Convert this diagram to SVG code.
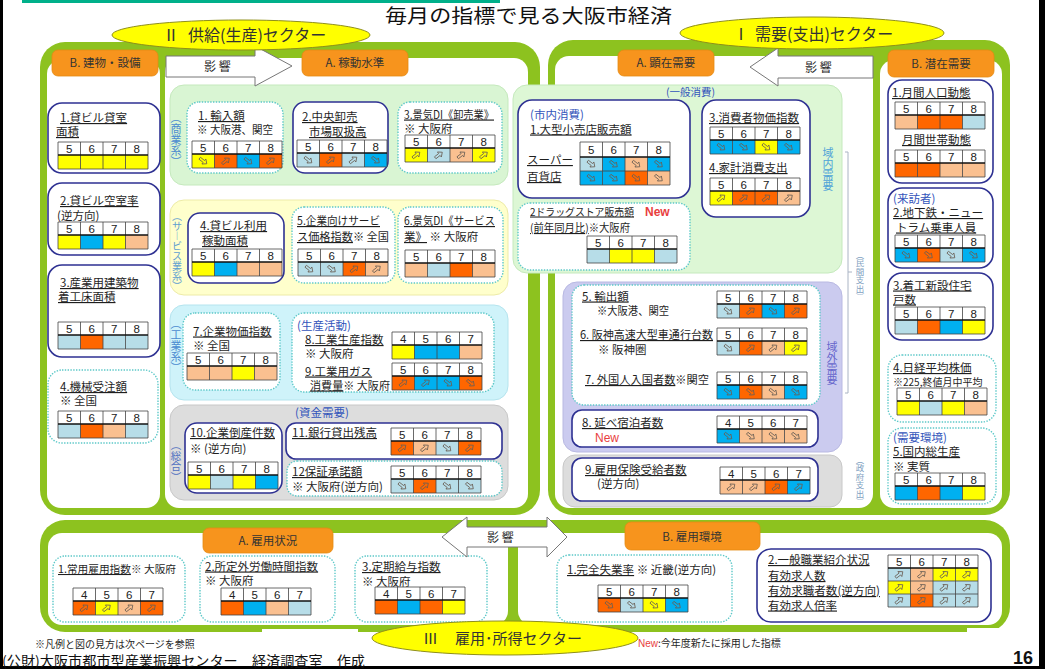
<svg xmlns="http://www.w3.org/2000/svg" width="1045" height="669" viewBox="0 0 1045 669">
<style>
text{font-family:"Noto Sans CJK JP","Liberation Sans",sans-serif;fill:#1f1f1f;font-size:11.5px}
.u{text-decoration:underline}
.bl{fill:#3355BB}
.n{font-family:"Liberation Sans",Arial,sans-serif;font-size:11.5px;text-anchor:middle;fill:#222}
.nv{fill:#fff;stroke:#2E3192;stroke-width:1.6}
.dt{fill:#fff;stroke:#5CC8C8;stroke-width:1.4;stroke-dasharray:1.4 1.4}
.g{fill:none;stroke:#444;stroke-width:0.8}
.gh{fill:none;stroke:#111;stroke-width:1.4}
.Y{fill:#FFFF00}.O{fill:#FF6600}.B{fill:#00B0F0}.L{fill:#B7DDE8}.P{fill:#FAC090}
.ar{fill:none;stroke:#6A5F55;stroke-width:0.8}
.fr{fill:#8DC21F}
.wp{fill:#fff}
.tab{fill:#F7941D;stroke:#E58A12;stroke-width:0.8}
.tt{font-size:11.5px;text-anchor:middle;fill:#333}
.el{fill:#FFFF00;stroke:#8F8F1A;stroke-width:1}
.et{font-size:16px;fill:#333}
.ya{fill:#fff;stroke:#777;stroke-width:1}
.red{fill:#E83E3E}
.sm{font-size:10px}
</style>
<defs>
<g id="ad"><path class="ar" d="M-4.5,-1.2H0.8V-3.2L4.5,0L0.8,3.2V1.2H-4.5Z" transform="rotate(38)"/></g>
<g id="au"><path class="ar" d="M-4.5,-1.2H0.8V-3.2L4.5,0L0.8,3.2V1.2H-4.5Z" transform="rotate(-38)"/></g>
<g id="t1"><rect width="90" height="13" fill="#fff"/><path class="g" d="M0,0H90V27H0ZM22.5,0V27M45,0V27M67.5,0V27"/><path class="gh" d="M0,13H90"/></g>
<g id="t2"><rect width="90" height="15" fill="#fff"/><path class="g" d="M0,0H90V43H0ZM22.5,0V43M45,0V43M67.5,0V43M0,29H90"/><path class="gh" d="M0,15H90"/></g>
<g id="t3"><rect width="90" height="13" fill="#fff"/><path class="g" d="M0,0H90V52H0ZM22.5,0V52M45,0V52M67.5,0V52M0,26H90M0,39H90"/><path class="gh" d="M0,13H90"/></g>
</defs>

<rect width="1045" height="669" fill="#fff"/>
<rect x="22" y="0" width="478" height="3" fill="#00B08A"/>
<rect x="0" y="0" width="3" height="669" fill="#000"/>
<rect x="1039" y="0" width="6" height="669" fill="#000"/>
<rect x="0" y="666" width="1045" height="3" fill="#000"/>

<!-- frames -->
<g id="frames">
<rect class="fr" x="40" y="42" width="500" height="473" rx="25"/>
<rect class="wp" x="47" y="60" width="113" height="448" rx="14"/>
<rect class="wp" x="165" y="58" width="363" height="450" rx="14"/>
<rect class="fr" x="548" y="40" width="462" height="475" rx="25"/>
<rect class="wp" x="555" y="56" width="318" height="452" rx="14"/>
<rect class="wp" x="880" y="60" width="122" height="448" rx="14"/>
<rect class="fr" x="40" y="520" width="970" height="112" rx="25"/>
<rect class="wp" x="48" y="533" width="460" height="92" rx="14"/>
<rect class="wp" x="518" y="533" width="484" height="92" rx="14"/>
<rect class="wp" x="967" y="628" width="72" height="30"/>
<rect class="wp" x="262" y="629" width="96" height="12"/>
</g>

<!-- regions -->
<g id="regions">
<rect x="170" y="85" width="338" height="100" rx="14" fill="#D9F5D3" stroke="#C5E9BD"/>
<rect x="170" y="200" width="338" height="95" rx="14" fill="#FFFFCC" stroke="#EDEBA8"/>
<rect x="170" y="305" width="338" height="95" rx="14" fill="#CFF3FA" stroke="#B5E4EE"/>
<rect x="170" y="405" width="338" height="95" rx="14" fill="#DDDDDD" stroke="#C8C8C8"/>
<rect x="513" y="85" width="329" height="188" rx="14" fill="#DDF7D5" stroke="#C5E9BD"/>
<rect x="563" y="282" width="279" height="170" rx="14" fill="#CBCBEF" stroke="#B9B9E2"/>
<rect x="563" y="455" width="279" height="52" rx="12" fill="#DDDDDD" stroke="#C8C8C8"/>
<text x="170.5" y="121.7" transform="rotate(90 170.5 121.7)" rotate="-90" style="fill:#4B8BD0;font-size:11px">︵商業系︶</text>
<text x="172" y="219.8" transform="rotate(90 172 219.8)" rotate="-90" style="fill:#5FA0D0;font-size:10px">︵サ︱ビス業系︶</text>
<text x="170.5" y="327.7" transform="rotate(90 170.5 327.7)" rotate="-90" style="fill:#4B8BD0;font-size:11px">︵工業系︶</text>
<text x="170.75" y="449.2" transform="rotate(90 170.75 449.2)" rotate="-90" style="fill:#5070C0;font-size:10.5px">︵総合︶</text>
<text class="bl" x="295" y="417">(資金需要)</text>
<text class="bl" x="666" y="96" style="font-size:10.5px">(一般消費)</text>
<text x="822.5" y="156.7" transform="rotate(90 822.5 156.7)" rotate="-90" style="fill:#4FA3D8;font-size:11px">域内需要</text>
<text x="826.5" y="350.7" transform="rotate(90 826.5 350.7)" rotate="-90" style="fill:#6666CC;font-size:11px">域外需要</text>
<text x="855.75" y="257.5" transform="rotate(90 855.75 257.5)" rotate="-90" style="fill:#7F9FBF;font-size:8.5px">︵民間支出︶</text>
<text x="855.75" y="462.5" transform="rotate(90 855.75 462.5)" rotate="-90" style="fill:#7F9FBF;font-size:8.5px">︵政府支出︶</text>
<path d="M845,152H848V393H845M848,272H852" fill="none" stroke="#AAB4C4" stroke-width="1"/>
</g>

<!-- left B -->
<g id="lb1"><rect class="nv" x="48" y="103" width="112" height="70" rx="14"/>
<text x="60" y="122" class="u">1.貸ビル貸室</text><text x="56" y="136" class="u">面積</text>
<g transform="translate(58,142)"><rect class="Y" y="13" width="22.5" height="14"/><rect class="Y" x="22.5" y="13" width="22.5" height="14"/><rect class="Y" x="45" y="13" width="22.5" height="14"/><rect class="Y" x="67.5" y="13" width="22.5" height="14"/><use href="#t1"/><text class="n" x="11.25 33.75 56.25 78.75" y="10.5">5678</text></g></g>

<g id="lb2"><rect class="nv" x="48" y="183" width="112" height="72" rx="14"/>
<text x="60" y="205" class="u">2.貸ビル空室率</text><text x="57" y="219.5">(逆方向)</text>
<g transform="translate(58,222)"><rect class="Y" y="13" width="22.5" height="14"/><rect class="B" x="22.5" y="13" width="22.5" height="14"/><rect class="Y" x="45" y="13" width="22.5" height="14"/><rect class="P" x="67.5" y="13" width="22.5" height="14"/><use href="#t1"/><text class="n" x="11.25 33.75 56.25 78.75" y="10.5">5678</text></g></g>

<g id="lb3"><rect class="nv" x="48" y="265" width="112" height="92" rx="14"/>
<text x="60" y="287" class="u">3.産業用建築物</text><text x="58" y="301" class="u">着工床面積</text>
<g transform="translate(58,322)"><rect class="L" y="13" width="22.5" height="14"/><rect class="O" x="22.5" y="13" width="22.5" height="14"/><rect class="L" x="45" y="13" width="22.5" height="14"/><rect class="L" x="67.5" y="13" width="22.5" height="14"/><use href="#t1"/><text class="n" x="11.25 33.75 56.25 78.75" y="10.5">5678</text></g></g>

<g id="lb4"><rect class="dt" x="48" y="370" width="110" height="73" rx="14"/>
<text x="60" y="391" class="u">4.機械受注額</text><text x="60" y="405">※ 全国</text>
<g transform="translate(58,411)"><rect class="L" y="13" width="22.5" height="14"/><rect class="O" x="22.5" y="13" width="22.5" height="14"/><rect class="P" x="45" y="13" width="22.5" height="14"/><rect class="L" x="67.5" y="13" width="22.5" height="14"/><use href="#t1"/><text class="n" x="11.25 33.75 56.25 78.75" y="10.5">5678</text></g></g>

<!-- left A -->
<g id="la1"><rect class="dt" x="187" y="102" width="96" height="71" rx="12"/>
<text x="198" y="120" class="u">1. 輸入額</text><text x="197" y="134" textLength="76" lengthAdjust="spacingAndGlyphs">※ 大阪港、関空</text>
<g transform="translate(192,141)"><rect class="Y" y="13" width="22.5" height="14"/><rect class="O" x="22.5" y="13" width="22.5" height="14"/><rect class="B" x="45" y="13" width="22.5" height="14"/><rect class="O" x="67.5" y="13" width="22.5" height="14"/><use href="#t1"/><text class="n" x="11.25 33.75 56.25 78.75" y="10.5">5678</text>
<use href="#ad" x="11.25" y="20"/><use href="#au" x="33.75" y="20"/><use href="#ad" x="56.25" y="20"/><use href="#au" x="78.75" y="20"/></g></g>

<g id="la2"><rect class="nv" x="293" y="102" width="95" height="71" rx="12"/>
<text x="302" y="121" class="u">2.中央卸売</text><text x="309" y="136" class="u">市場取扱高</text>
<g transform="translate(297,140)"><rect class="L" y="13" width="22.5" height="14"/><rect class="O" x="22.5" y="13" width="22.5" height="14"/><rect class="L" x="45" y="13" width="22.5" height="14"/><rect class="B" x="67.5" y="13" width="22.5" height="14"/><use href="#t1"/><text class="n" x="11.25 33.75 56.25 78.75" y="10.5">5678</text>
<use href="#ad" x="11.25" y="20"/><use href="#au" x="33.75" y="20"/><use href="#au" x="56.25" y="20"/><use href="#ad" x="78.75" y="20"/></g></g>

<g id="la3"><rect class="dt" x="398" y="102" width="104" height="71" rx="12"/>
<text x="404" y="118.5" class="u" textLength="90" lengthAdjust="spacingAndGlyphs">3.景気DI《卸売業》</text><text x="404" y="133">※ 大阪府</text>
<g transform="translate(405,135)"><rect class="Y" y="13" width="22.5" height="14"/><rect class="L" x="22.5" y="13" width="22.5" height="14"/><rect class="P" x="45" y="13" width="22.5" height="14"/><rect class="Y" x="67.5" y="13" width="22.5" height="14"/><use href="#t1"/><text class="n" x="11.25 33.75 56.25 78.75" y="10.5">5678</text>
<use href="#au" x="11.25" y="20"/><use href="#au" x="33.75" y="20"/><use href="#au" x="56.25" y="20"/><use href="#au" x="78.75" y="20"/></g></g>

<g id="la4"><rect class="nv" x="188" y="213" width="96" height="70" rx="12"/>
<text x="200" y="230" class="u">4.貸ビル利用</text><text x="202" y="245" class="u">稼動面積</text>
<g transform="translate(192,249)"><rect class="Y" y="13" width="22.5" height="14"/><rect class="B" x="22.5" y="13" width="22.5" height="14"/><rect class="P" x="45" y="13" width="22.5" height="14"/><rect class="P" x="67.5" y="13" width="22.5" height="14"/><use href="#t1"/><text class="n" x="11.25 33.75 56.25 78.75" y="10.5">5678</text></g></g>

<g id="la5"><rect class="dt" x="292" y="207" width="103" height="76" rx="12"/>
<text x="297" y="225" class="u" textLength="83" lengthAdjust="spacingAndGlyphs">5.企業向けサービ</text><text x="297" y="241" textLength="92" lengthAdjust="spacingAndGlyphs"><tspan class="u">ス価格指数</tspan>※ 全国</text>
<g transform="translate(298,249)"><rect class="L" y="13" width="22.5" height="14"/><rect class="L" x="22.5" y="13" width="22.5" height="14"/><rect class="O" x="45" y="13" width="22.5" height="14"/><rect class="P" x="67.5" y="13" width="22.5" height="14"/><use href="#t1"/><text class="n" x="11.25 33.75 56.25 78.75" y="10.5">5678</text>
<use href="#ad" x="11.25" y="20"/><use href="#ad" x="33.75" y="20"/><use href="#au" x="56.25" y="20"/><use href="#au" x="78.75" y="20"/></g></g>

<g id="la6"><rect class="dt" x="398" y="207" width="105" height="76" rx="12"/>
<text x="404" y="225" class="u" textLength="91" lengthAdjust="spacingAndGlyphs">6.景気DI《サービス</text><text x="404" y="241"><tspan class="u">業》</tspan> ※ 大阪府</text>
<g transform="translate(405,250)"><rect class="P" y="13" width="22.5" height="14"/><rect class="L" x="22.5" y="13" width="22.5" height="14"/><rect class="O" x="45" y="13" width="22.5" height="14"/><rect class="P" x="67.5" y="13" width="22.5" height="14"/><use href="#t1"/><text class="n" x="11.25 33.75 56.25 78.75" y="10.5">5678</text></g></g>

<g id="la7"><rect class="dt" x="183" y="313" width="97" height="77" rx="12"/>
<text x="193" y="335.5" class="u">7.企業物価指数</text><text x="193" y="349.5">※ 全国</text>
<g transform="translate(187,353)"><rect class="P" y="13" width="22.5" height="14"/><rect class="P" x="22.5" y="13" width="22.5" height="14"/><rect class="Y" x="45" y="13" width="22.5" height="14"/><rect class="P" x="67.5" y="13" width="22.5" height="14"/><use href="#t1"/><text class="n" x="11.25 33.75 56.25 78.75" y="10.5">5678</text></g></g>

<g id="la8"><rect class="dt" x="292" y="313" width="202" height="79" rx="12"/>
<text class="bl" x="297" y="330">(生産活動)</text>
<text x="305" y="344" class="u">8.工業生産指数</text><text x="305" y="358">※ 大阪府</text>
<text x="305" y="375.5" class="u">9.工業用ガス</text><text x="310" y="389.5" textLength="80" lengthAdjust="spacingAndGlyphs"><tspan class="u">消費量</tspan>※ 大阪府</text>
<g transform="translate(392,332)"><rect class="Y" y="13" width="22.5" height="14"/><rect class="B" x="22.5" y="13" width="22.5" height="14"/><rect class="B" x="45" y="13" width="22.5" height="14"/><rect class="P" x="67.5" y="13" width="22.5" height="14"/><use href="#t1"/><text class="n" x="11.25 33.75 56.25 78.75" y="10.5">4567</text></g>
<g transform="translate(392,363)"><rect class="O" y="13" width="22.5" height="14"/><rect class="B" x="22.5" y="13" width="22.5" height="14"/><rect class="B" x="45" y="13" width="22.5" height="14"/><rect class="O" x="67.5" y="13" width="22.5" height="14"/><use href="#t1"/><text class="n" x="11.25 33.75 56.25 78.75" y="10.5">5678</text>
<use href="#au" x="11.25" y="20"/><use href="#au" x="33.75" y="20"/><use href="#ad" x="56.25" y="20"/><use href="#ad" x="78.75" y="20"/></g></g>

<g id="la10"><rect class="nv" x="185" y="423" width="97" height="70" rx="12"/>
<text x="190" y="437" class="u">10.企業倒産件数</text><text x="190" y="453">※ (逆方向)</text>
<g transform="translate(188,462)"><rect class="Y" y="13" width="22.5" height="14"/><rect class="L" x="22.5" y="13" width="22.5" height="14"/><rect class="Y" x="45" y="13" width="22.5" height="14"/><rect class="B" x="67.5" y="13" width="22.5" height="14"/><use href="#t1"/><text class="n" x="11.25 33.75 56.25 78.75" y="10.5">5678</text></g></g>

<g id="la11"><rect class="nv" x="286" y="423" width="216" height="36" rx="10"/>
<text x="292" y="437" class="u">11.銀行貸出残高</text>
<g transform="translate(391,428)"><rect class="O" y="13" width="22.5" height="14"/><rect class="P" x="22.5" y="13" width="22.5" height="14"/><rect class="L" x="45" y="13" width="22.5" height="14"/><rect class="O" x="67.5" y="13" width="22.5" height="14"/><use href="#t1"/><text class="n" x="11.25 33.75 56.25 78.75" y="10.5">5678</text>
<use href="#au" x="11.25" y="20"/><use href="#au" x="33.75" y="20"/><use href="#ad" x="56.25" y="20"/><use href="#au" x="78.75" y="20"/></g></g>

<g id="la12"><rect class="dt" x="287" y="461" width="215" height="35" rx="10"/>
<text x="292" y="476" class="u">12保証承諾額</text><text x="292" y="491">※ 大阪府(逆方向)</text>
<g transform="translate(391,466)"><rect class="L" y="13" width="22.5" height="14"/><rect class="O" x="22.5" y="13" width="22.5" height="14"/><rect class="L" x="45" y="13" width="22.5" height="14"/><rect class="L" x="67.5" y="13" width="22.5" height="14"/><use href="#t1"/><text class="n" x="11.25 33.75 56.25 78.75" y="10.5">5678</text>
<use href="#ad" x="11.25" y="20"/><use href="#au" x="33.75" y="20"/><use href="#ad" x="56.25" y="20"/><use href="#ad" x="78.75" y="20"/></g></g>

<!-- right A -->
<g id="ra1"><rect class="nv" x="518" y="100" width="172" height="98" rx="14"/>
<text class="bl" x="530" y="119">(市内消費)</text><text x="530" y="133.5" class="u">1.大型小売店販売額</text>
<text x="527" y="164" class="u">スーパー</text><text x="527" y="181" class="u">百貨店</text>
<g transform="translate(580,142)"><rect class="L" y="15" width="22.5" height="14"/><rect class="B" x="22.5" y="15" width="22.5" height="14"/><rect class="P" x="45" y="15" width="22.5" height="14"/><rect class="B" x="67.5" y="15" width="22.5" height="14"/>
<rect class="B" y="29" width="22.5" height="14"/><rect class="B" x="22.5" y="29" width="22.5" height="14"/><rect class="O" x="45" y="29" width="22.5" height="14"/><rect class="P" x="67.5" y="29" width="22.5" height="14"/>
<use href="#t2"/><text class="n" x="11.25 33.75 56.25 78.75" y="11.5">5678</text>
<use href="#ad" x="11.25" y="22"/><use href="#ad" x="33.75" y="22"/><use href="#ad" x="56.25" y="22"/><use href="#ad" x="78.75" y="22"/>
<use href="#ad" x="11.25" y="36"/><use href="#ad" x="33.75" y="36"/><use href="#ad" x="56.25" y="36"/><use href="#ad" x="78.75" y="36"/></g></g>

<g id="ra2"><rect class="dt" x="518" y="203" width="172" height="67" rx="12"/>
<text x="530" y="215.5" class="u" style="font-size:10.5px" textLength="104" lengthAdjust="spacingAndGlyphs">2ドラッグストア販売額</text><text x="645" y="215.5" class="red" style="font-family:'Liberation Sans',sans-serif;font-size:12px;font-weight:bold">New</text>
<text x="530" y="232" style="font-size:11px" textLength="100" lengthAdjust="spacingAndGlyphs"><tspan class="u">(前年同月比)</tspan>※大阪府</text>
<g transform="translate(587,236)"><rect class="L" y="13" width="22.5" height="14"/><rect class="Y" x="22.5" y="13" width="22.5" height="14"/><rect class="Y" x="45" y="13" width="22.5" height="14"/><rect class="L" x="67.5" y="13" width="22.5" height="14"/><use href="#t1"/><text class="n" x="11.25 33.75 56.25 78.75" y="10.5">5678</text></g></g>

<g id="ra3"><rect class="nv" x="702" y="100" width="108" height="117" rx="14"/>
<text x="709" y="122" class="u">3.消費者物価指数</text>
<g transform="translate(710,127)"><rect class="B" y="13" width="22.5" height="14"/><rect class="B" x="22.5" y="13" width="22.5" height="14"/><rect class="Y" x="45" y="13" width="22.5" height="14"/><rect class="B" x="67.5" y="13" width="22.5" height="14"/><use href="#t1"/><text class="n" x="11.25 33.75 56.25 78.75" y="10.5">5678</text>
<use href="#ad" x="11.25" y="20"/><use href="#ad" x="33.75" y="20"/><use href="#ad" x="56.25" y="20"/><use href="#ad" x="78.75" y="20"/></g>
<text x="709" y="172" class="u">4.家計消費支出</text>
<g transform="translate(710,178)"><rect class="Y" y="13" width="22.5" height="14"/><rect class="O" x="22.5" y="13" width="22.5" height="14"/><rect class="O" x="45" y="13" width="22.5" height="14"/><rect class="P" x="67.5" y="13" width="22.5" height="14"/><use href="#t1"/><text class="n" x="11.25 33.75 56.25 78.75" y="10.5">5678</text>
<use href="#au" x="11.25" y="20"/><use href="#au" x="33.75" y="20"/><use href="#au" x="56.25" y="20"/><use href="#au" x="78.75" y="20"/></g></g>

<g id="ra5"><rect class="dt" x="572" y="285" width="248" height="120" rx="12"/>
<text x="582" y="300.5" class="u">5. 輸出額</text><text x="597" y="315" textLength="72" lengthAdjust="spacingAndGlyphs">※大阪港、関空</text>
<g transform="translate(717,291)"><rect class="L" y="13" width="22.5" height="14"/><rect class="O" x="22.5" y="13" width="22.5" height="14"/><rect class="B" x="45" y="13" width="22.5" height="14"/><rect class="O" x="67.5" y="13" width="22.5" height="14"/><use href="#t1"/><text class="n" x="11.25 33.75 56.25 78.75" y="10.5">5678</text>
<use href="#ad" x="11.25" y="20"/><use href="#au" x="33.75" y="20"/><use href="#ad" x="56.25" y="20"/><use href="#au" x="78.75" y="20"/></g>
<text x="580" y="339" class="u" textLength="133" lengthAdjust="spacingAndGlyphs">6. 阪神高速大型車通行台数</text><text x="598" y="354">※ 阪神圏</text>
<g transform="translate(717,328)"><rect class="L" y="13" width="22.5" height="14"/><rect class="O" x="22.5" y="13" width="22.5" height="14"/><rect class="P" x="45" y="13" width="22.5" height="14"/><rect class="Y" x="67.5" y="13" width="22.5" height="14"/><use href="#t1"/><text class="n" x="11.25 33.75 56.25 78.75" y="10.5">5678</text>
<use href="#ad" x="11.25" y="20"/><use href="#au" x="33.75" y="20"/><use href="#au" x="56.25" y="20"/><use href="#au" x="78.75" y="20"/></g>
<text x="585" y="384" textLength="124" lengthAdjust="spacingAndGlyphs"><tspan class="u">7. 外国人入国者数</tspan>※関空</text>
<g transform="translate(717,372)"><rect class="B" y="13" width="22.5" height="14"/><rect class="O" x="22.5" y="13" width="22.5" height="14"/><rect class="P" x="45" y="13" width="22.5" height="14"/><rect class="B" x="67.5" y="13" width="22.5" height="14"/><use href="#t1"/><text class="n" x="11.25 33.75 56.25 78.75" y="10.5">5678</text>
<use href="#ad" x="11.25" y="20"/><use href="#ad" x="33.75" y="20"/><use href="#ad" x="56.25" y="20"/><use href="#ad" x="78.75" y="20"/></g></g>

<g id="ra8"><rect class="nv" x="572" y="410" width="246" height="37" rx="10"/>
<text x="582" y="427" class="u">8. 延べ宿泊者数</text><text x="595" y="442" class="red" style="font-family:'Liberation Sans',sans-serif;font-size:12px">New</text>
<g transform="translate(717,416)"><rect class="B" y="13" width="22.5" height="14"/><rect class="P" x="22.5" y="13" width="22.5" height="14"/><rect class="P" x="45" y="13" width="22.5" height="14"/><rect class="P" x="67.5" y="13" width="22.5" height="14"/><use href="#t1"/><text class="n" x="11.25 33.75 56.25 78.75" y="10.5">4567</text>
<use href="#ad" x="11.25" y="20"/><use href="#ad" x="33.75" y="20"/><use href="#ad" x="56.25" y="20"/><use href="#ad" x="78.75" y="20"/></g></g>

<g id="ra9"><rect class="nv" x="572" y="458" width="246" height="43" rx="10"/>
<text x="585" y="474" class="u">9.雇用保険受給者数</text><text x="597" y="488">(逆方向)</text>
<g transform="translate(720,467)"><rect class="P" y="13" width="22.5" height="14"/><rect class="P" x="22.5" y="13" width="22.5" height="14"/><rect class="O" x="45" y="13" width="22.5" height="14"/><rect class="B" x="67.5" y="13" width="22.5" height="14"/><use href="#t1"/><text class="n" x="11.25 33.75 56.25 78.75" y="10.5">4567</text>
<use href="#au" x="11.25" y="20"/><use href="#au" x="33.75" y="20"/><use href="#au" x="56.25" y="20"/><use href="#au" x="78.75" y="20"/></g></g>

<!-- right B -->
<g id="rb1"><rect class="nv" x="888" y="80" width="105" height="103" rx="14"/>
<text x="892" y="97" class="u">1.月間人口動態</text>
<g transform="translate(895,102)"><rect class="P" y="13" width="22.5" height="14"/><rect class="O" x="22.5" y="13" width="22.5" height="14"/><rect class="O" x="45" y="13" width="22.5" height="14"/><rect class="L" x="67.5" y="13" width="22.5" height="14"/><use href="#t1"/><text class="n" x="11.25 33.75 56.25 78.75" y="10.5">5678</text></g>
<text x="902" y="144" class="u">月間世帯動態</text>
<g transform="translate(895,150)"><rect class="O" y="13" width="22.5" height="14"/><rect class="O" x="22.5" y="13" width="22.5" height="14"/><rect class="P" x="45" y="13" width="22.5" height="14"/><rect class="P" x="67.5" y="13" width="22.5" height="14"/><use href="#t1"/><text class="n" x="11.25 33.75 56.25 78.75" y="10.5">5678</text></g></g>

<g id="rb2"><rect class="nv" x="888" y="188" width="105" height="80" rx="14"/>
<text class="bl" x="893" y="202.5">(来訪者)</text><text x="893" y="217" class="u">2.地下鉄・ニュー</text><text x="896" y="231.5" class="u">トラム乗車人員</text>
<g transform="translate(895,235)"><rect class="B" y="13" width="22.5" height="14"/><rect class="O" x="22.5" y="13" width="22.5" height="14"/><rect class="L" x="45" y="13" width="22.5" height="14"/><rect class="B" x="67.5" y="13" width="22.5" height="14"/><use href="#t1"/><text class="n" x="11.25 33.75 56.25 78.75" y="10.5">5678</text>
<use href="#ad" x="11.25" y="20"/><use href="#ad" x="33.75" y="20"/><use href="#ad" x="56.25" y="20"/><use href="#ad" x="78.75" y="20"/></g></g>

<g id="rb3"><rect class="nv" x="888" y="273" width="105" height="67" rx="14"/>
<text x="893" y="289.5" class="u">3.着工新設住宅</text><text x="893" y="303.5" class="u">戸数</text>
<g transform="translate(895,307)"><rect class="L" y="13" width="22.5" height="14"/><rect class="O" x="22.5" y="13" width="22.5" height="14"/><rect class="B" x="45" y="13" width="22.5" height="14"/><rect class="Y" x="67.5" y="13" width="22.5" height="14"/><use href="#t1"/><text class="n" x="11.25 33.75 56.25 78.75" y="10.5">5678</text></g></g>

<g id="rb4"><rect class="dt" x="888" y="355" width="108" height="67" rx="14"/>
<text x="893" y="372" class="u">4.日経平均株価</text><text x="893" y="386" class="sm">※225,終値月中平均</text>
<g transform="translate(897,388)"><rect class="Y" y="13" width="22.5" height="14"/><rect class="L" x="22.5" y="13" width="22.5" height="14"/><rect class="Y" x="45" y="13" width="22.5" height="14"/><rect class="P" x="67.5" y="13" width="22.5" height="14"/><use href="#t1"/><text class="n" x="11.25 33.75 56.25 78.75" y="10.5">5678</text></g></g>

<g id="rb5"><rect class="dt" x="888" y="428" width="108" height="76" rx="14"/>
<text class="bl" x="893" y="441.5">(需要環境)</text><text x="893" y="456" class="u">5.国内総生産</text><text x="893" y="470.5">※ 実質</text>
<g transform="translate(895,473)"><rect class="B" y="13" width="22.5" height="14"/><rect class="O" x="22.5" y="13" width="22.5" height="14"/><rect class="B" x="45" y="13" width="22.5" height="14"/><rect class="Y" x="67.5" y="13" width="22.5" height="14"/><use href="#t1"/><text class="n" x="11.25 33.75 56.25 78.75" y="10.5">5678</text></g></g>

<!-- bottom -->
<g id="ba1"><rect class="dt" x="53" y="556" width="132" height="66" rx="12"/>
<text x="58" y="573" style="font-size:10.5px" textLength="118" lengthAdjust="spacingAndGlyphs"><tspan class="u">1.常用雇用指数</tspan>※ 大阪府</text>
<g transform="translate(73,588)"><rect class="O" y="13" width="22.5" height="14"/><rect class="Y" x="22.5" y="13" width="22.5" height="14"/><rect class="P" x="45" y="13" width="22.5" height="14"/><rect class="O" x="67.5" y="13" width="22.5" height="14"/><use href="#t1"/><text class="n" x="11.25 33.75 56.25 78.75" y="10.5">4567</text>
<use href="#au" x="11.25" y="20"/><use href="#au" x="33.75" y="20"/><use href="#au" x="56.25" y="20"/><use href="#au" x="78.75" y="20"/></g></g>

<g id="ba2"><rect class="dt" x="200" y="556" width="135" height="66" rx="12"/>
<text x="205" y="570.5" class="u">2.所定外労働時間指数</text><text x="205" y="585">※ 大阪府</text>
<g transform="translate(221,588)"><rect class="O" y="13" width="22.5" height="14"/><rect class="B" x="22.5" y="13" width="22.5" height="14"/><rect class="P" x="45" y="13" width="22.5" height="14"/><rect class="L" x="67.5" y="13" width="22.5" height="14"/><use href="#t1"/><text class="n" x="11.25 33.75 56.25 78.75" y="10.5">4567</text></g></g>

<g id="ba3"><rect class="dt" x="355" y="556" width="132" height="66" rx="12"/>
<text x="362" y="571" class="u">3.定期給与指数</text><text x="362" y="585.5">※ 大阪府</text>
<g transform="translate(375,587)"><rect class="O" y="13" width="22.5" height="14"/><rect class="B" x="22.5" y="13" width="22.5" height="14"/><rect class="O" x="45" y="13" width="22.5" height="14"/><rect class="Y" x="67.5" y="13" width="22.5" height="14"/><use href="#t1"/><text class="n" x="11.25 33.75 56.25 78.75" y="10.5">4567</text></g></g>

<g id="bb1"><rect class="dt" x="557" y="555" width="175" height="67" rx="12"/>
<text x="567" y="574"><tspan class="u">1.完全失業率</tspan> ※ 近畿(逆方向)</text>
<g transform="translate(598,585)"><rect class="O" y="13" width="22.5" height="14"/><rect class="L" x="22.5" y="13" width="22.5" height="14"/><rect class="Y" x="45" y="13" width="22.5" height="14"/><rect class="B" x="67.5" y="13" width="22.5" height="14"/><use href="#t1"/><text class="n" x="11.25 33.75 56.25 78.75" y="10.5">5678</text>
<use href="#ad" x="11.25" y="20"/><use href="#ad" x="33.75" y="20"/><use href="#ad" x="56.25" y="20"/><use href="#ad" x="78.75" y="20"/></g></g>

<g id="bb2"><rect class="nv" x="757" y="549" width="234" height="73" rx="14"/>
<text x="768" y="564" class="u">2.一般職業紹介状況</text>
<text x="768" y="580" class="u">有効求人数</text><text x="768" y="595" class="u" textLength="112" lengthAdjust="spacingAndGlyphs">有効求職者数(逆方向)</text><text x="768" y="609.5" class="u">有効求人倍率</text>
<g transform="translate(888,555)">
<rect class="L" y="13" width="22.5" height="13"/><rect class="P" x="22.5" y="13" width="22.5" height="13"/><rect class="Y" x="45" y="13" width="22.5" height="13"/><rect class="Y" x="67.5" y="13" width="22.5" height="13"/>
<rect class="Y" y="26" width="22.5" height="13"/><rect class="P" x="22.5" y="26" width="22.5" height="13"/><rect class="L" x="45" y="26" width="22.5" height="13"/><rect class="L" x="67.5" y="26" width="22.5" height="13"/>
<rect class="L" y="39" width="22.5" height="13"/><rect class="O" x="22.5" y="39" width="22.5" height="13"/><rect class="L" x="45" y="39" width="22.5" height="13"/><rect class="L" x="67.5" y="39" width="22.5" height="13"/>
<use href="#t3"/><text class="n" x="11.25 33.75 56.25 78.75" y="10.5">5678</text>
<use href="#au" x="11.25" y="19.5"/><use href="#au" x="33.75" y="19.5"/><use href="#au" x="56.25" y="19.5"/><use href="#au" x="78.75" y="19.5"/>
<use href="#au" x="11.25" y="32.5"/><use href="#au" x="33.75" y="32.5"/><use href="#au" x="56.25" y="32.5"/><use href="#au" x="78.75" y="32.5"/>
<use href="#au" x="11.25" y="45.5"/><use href="#au" x="33.75" y="45.5"/><use href="#au" x="56.25" y="45.5"/><use href="#au" x="78.75" y="45.5"/></g></g>

<!-- connectors: influence arrows -->
<g id="connectors">
<path class="ya" d="M166,56H255V46L292,66L255,86V77H166Z"/>
<text x="204" y="71" style="font-size:12px">影 響</text>
<path class="ya" d="M750,67L778,48V56H873V78H778V86Z"/>
<text x="805" y="72" style="font-size:12px">影 響</text>
<path class="ya" d="M442,537L467,517V527H547V517L567,537L547,557V547H467V557Z"/>
<text x="487" y="542" style="font-size:12px">影 響</text>
</g>

<!-- tabs -->
<g id="tabs">
<rect class="tab" x="52" y="50" width="106" height="26" rx="6"/><text class="tt" x="105" y="67">B. 建物・設備</text>
<rect class="tab" x="302" y="50" width="106" height="26" rx="6"/><text class="tt" x="355" y="67">A. 稼動水準</text>
<rect class="tab" x="618" y="50" width="96" height="26" rx="6"/><text class="tt" x="666" y="67">A. 顕在需要</text>
<rect class="tab" x="888" y="50" width="106" height="27" rx="6"/><text class="tt" x="941" y="68">B. 潜在需要</text>
<rect class="tab" x="203" y="528" width="130" height="25" rx="6"/><text class="tt" x="268" y="545">A. 雇用状況</text>
<rect class="tab" x="625" y="522" width="135" height="28" rx="6"/><text class="tt" x="692" y="541">B. 雇用環境</text>
</g>

<!-- sector ellipses -->
<g id="sector2"><ellipse class="el" cx="241" cy="35" rx="129" ry="15"/><text class="et" x="163" y="41">Ⅱ</text><text class="et" x="188" y="41">供給(生産)セクター</text></g>
<g id="sector1"><ellipse class="el" cx="812" cy="33" rx="132" ry="16"/><text class="et" x="733" y="40">Ⅰ</text><text class="et" x="755" y="40">需要(支出)セクター</text></g>
<g id="sector3"><ellipse class="el" cx="505" cy="638" rx="133" ry="17"/><text class="et" x="423" y="644" style="font-size:15px">Ⅲ</text><text class="et" x="455" y="644" style="font-size:15px">雇用･所得セクター</text></g>

<!-- title and footer -->
<text x="385" y="22.5" style="font-size:19.5px;fill:#111" textLength="287" lengthAdjust="spacingAndGlyphs">毎月の指標で見る大阪市経済</text>
<text x="35" y="647.5" style="font-size:10px">※凡例と図の見方は次ページを参照</text>
<text x="2" y="666" style="font-size:13.5px;fill:#111" textLength="363" lengthAdjust="spacingAndGlyphs">(公財)大阪市都市型産業振興センター　経済調査室　作成</text>
<text x="638" y="647" style="font-size:10px"><tspan class="red" style="font-family:'Liberation Sans',sans-serif">New</tspan>:今年度新たに採用した指標</text>
<text x="1013" y="664" style="font-family:'Liberation Sans',sans-serif;font-size:18px;font-weight:bold;fill:#111">16</text>
</svg>
